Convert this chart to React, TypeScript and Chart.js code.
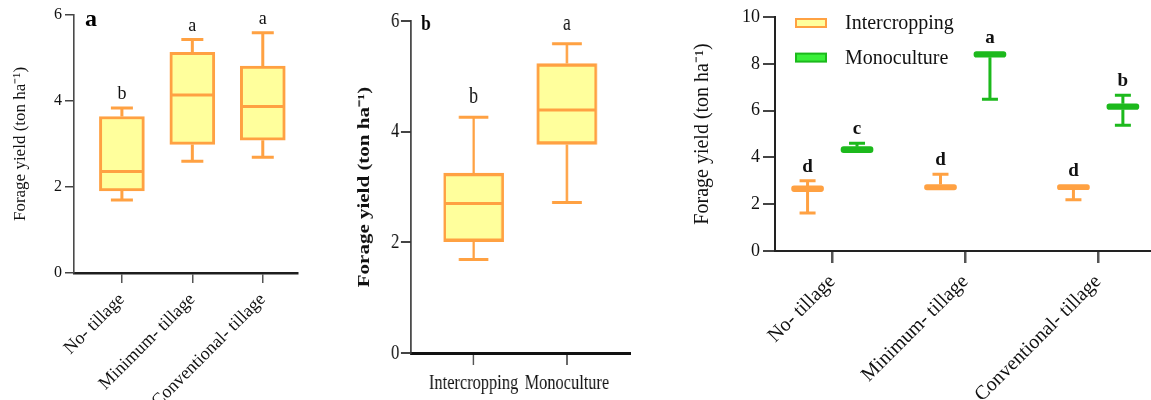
import React, { useEffect, useRef } from 'react';
import { Chart, registerables } from 'chart.js';

Chart.register(...registerables);

// ---------- categories ----------
const tillageLabels = ['No- tillage', 'Minimum- tillage', 'Conventional- tillage'];
const croppingLabels = ['Intercropping', 'Monoculture'];
const tillagePositions = [1, 2, 3];
const croppingPositions = [1, 2];

// ---------- panel a : tillage (box plots) ----------
const aMin = [1.70, 2.60, 2.69];
const aQ1 = [1.91, 2.99, 3.09];
const aMedian = [2.36, 4.14, 3.87];
const aQ3 = [3.64, 5.13, 4.81];
const aMax = [3.84, 5.43, 5.59];
const aLetters = ['b', 'a', 'a'];

// ---------- panel b : cropping system (box plots) ----------
const bMin = [1.69, 2.72];
const bQ1 = [2.01, 3.77];
const bMedian = [2.70, 4.39];
const bQ3 = [3.25, 5.23];
const bMax = [4.26, 5.59];
const bLetters = ['b', 'a'];

// ---------- panel c : tillage x cropping ----------
const cIntMin = [1.62, 2.61, 2.19];
const cIntQ1 = [2.54, 2.61, 2.62];
const cIntMedian = [2.65, 2.72, 2.73];
const cIntQ3 = [2.78, 2.84, 2.84];
const cIntMax = [3.00, 3.28, 2.84];
const cIntLetters = ['d', 'd', 'd'];

const cMonoMin = [4.20, 6.48, 5.37];
const cMonoQ1 = [4.20, 8.28, 6.05];
const cMonoMedian = [4.33, 8.40, 6.16];
const cMonoQ3 = [4.46, 8.52, 6.29];
const cMonoMax = [4.60, 8.52, 6.66];
const cMonoLetters = ['c', 'a', 'b'];

const yTitle = 'Forage yield (ton ha\u207B\u00B9)';

const SERIF = "'Liberation Serif', 'Times New Roman', Times, serif";
const ORANGE = '#FFA142';
const YELLOW = '#FFFF9C';
const GREEN = '#1CB91C';
const LIGHTGREEN = '#3AF03A';

type Series = {
  label: string;
  xs: number[];
  min: number[];
  q1: number[];
  med: number[];
  q3: number[];
  max: number[];
  letters: string[];
  stroke: string;
  fill: string;
};

type Panel = {
  left: number;
  width: number;
  squash: number;
  yMax: number;
  xMin: number;
  xMax: number;
  tickPositions: number[];
  tickLabels: string[];
  series: Series[];
  padding: { left: number; right: number; top: number; bottom: number };
  yWidth: number;
  xHeight: number;
  boxWidth: number;
  capWidth: number;
  lineWidth: number;
  boxBorder: number;
  radius: number;
  solidBoxes: boolean;
  drawMedian: boolean;
  tickFont: number;
  xLabelFont: number;
  xRotation: number;
  xTickPadding: number;
  yTickPadding: number;
  yTickLength: number;
  xTickLength: number;
  yAxisColor: string;
  yAxisWidth: number;
  xAxisColor: string;
  xAxisWidth: number;
  yTickWidth: number;
  xTickWidth: number;
  titleSize: number;
  titleWeight: string;
  titlePadTop: number;
  letterFont: string;
  letterGap: number;
  panelLabel?: { text: string; font: string; dx: number; dy: number };
  legend?: boolean;
};

const GROUP_OFFSET = 0.186;

const panels: Panel[] = [
  {
    left: 0,
    width: 305,
    squash: 1,
    yMax: 6,
    xMin: 0.32,
    xMax: 3.5,
    tickPositions: tillagePositions,
    tickLabels: tillageLabels,
    series: [
      {
        label: 'Tillage',
        xs: tillagePositions,
        min: aMin, q1: aQ1, med: aMedian, q3: aQ3, max: aMax,
        letters: aLetters, stroke: ORANGE, fill: YELLOW,
      },
    ],
    padding: { left: 0, right: 7, top: 15, bottom: 0 },
    yWidth: 74,
    xHeight: 127,
    boxWidth: 45,
    capWidth: 22,
    lineWidth: 3,
    boxBorder: 3,
    radius: 0,
    solidBoxes: false,
    drawMedian: true,
    tickFont: 16,
    xLabelFont: 18,
    xRotation: 45,
    xTickPadding: 6,
    yTickPadding: 3,
    yTickLength: 9,
    xTickLength: 10,
    yAxisColor: '#4a4a4a',
    yAxisWidth: 1.6,
    xAxisColor: '#1e1e1e',
    xAxisWidth: 2.5,
    yTickWidth: 1.5,
    xTickWidth: 1.5,
    titleSize: 17,
    titleWeight: 'normal',
    titlePadTop: 10,
    letterFont: `normal 18px ${SERIF}`,
    letterGap: 9,
    panelLabel: { text: 'a', font: `bold 24px ${SERIF}`, dx: 11, dy: 11 },
  },
  {
    left: 340,
    width: 385,
    squash: 0.78,
    yMax: 6,
    xMin: 0.329,
    xMax: 2.678,
    tickPositions: croppingPositions,
    tickLabels: croppingLabels,
    series: [
      {
        label: 'Cropping',
        xs: croppingPositions,
        min: bMin, q1: bQ1, med: bMedian, q3: bQ3, max: bMax,
        letters: bLetters, stroke: ORANGE, fill: YELLOW,
      },
    ],
    padding: { left: 0, right: 13, top: 21, bottom: 0 },
    yWidth: 91,
    xHeight: 47,
    boxWidth: 77,
    capWidth: 38,
    lineWidth: 3,
    boxBorder: 3.5,
    radius: 0,
    solidBoxes: false,
    drawMedian: true,
    tickFont: 21,
    xLabelFont: 21,
    xRotation: 0,
    xTickPadding: 6,
    yTickPadding: 2,
    yTickLength: 13,
    xTickLength: 12,
    yAxisColor: '#333',
    yAxisWidth: 1.8,
    xAxisColor: '#111',
    xAxisWidth: 3,
    yTickWidth: 2,
    xTickWidth: 2,
    titleSize: 21,
    titleWeight: 'bold',
    titlePadTop: 19,
    letterFont: `normal 23px ${SERIF}`,
    letterGap: 14,
    panelLabel: { text: 'b', font: `bold 22px ${SERIF}`, dx: 13, dy: 9 },
  },
  {
    left: 680,
    width: 471,
    squash: 1,
    yMax: 10,
    xMin: 0.569,
    xMax: 3.39,
    tickPositions: tillagePositions,
    tickLabels: tillageLabels,
    series: [
      {
        label: 'Intercropping',
        xs: tillagePositions.map((v) => v - GROUP_OFFSET),
        min: cIntMin, q1: cIntQ1, med: cIntMedian, q3: cIntQ3, max: cIntMax,
        letters: cIntLetters, stroke: ORANGE, fill: YELLOW,
      },
      {
        label: 'Monoculture',
        xs: tillagePositions.map((v) => v + GROUP_OFFSET),
        min: cMonoMin, q1: cMonoQ1, med: cMonoMedian, q3: cMonoQ3, max: cMonoMax,
        letters: cMonoLetters, stroke: GREEN, fill: LIGHTGREEN,
      },
    ],
    padding: { left: 0, right: 1, top: 17, bottom: 0 },
    yWidth: 95,
    xHeight: 149,
    boxWidth: 32,
    capWidth: 16,
    lineWidth: 3,
    boxBorder: 0,
    radius: 3,
    solidBoxes: true,
    drawMedian: false,
    tickFont: 18,
    xLabelFont: 20,
    xRotation: 45,
    xTickPadding: 7,
    yTickPadding: 3,
    yTickLength: 12,
    xTickLength: 12,
    yAxisColor: '#222',
    yAxisWidth: 2,
    xAxisColor: '#222',
    xAxisWidth: 2,
    yTickWidth: 2,
    xTickWidth: 2.5,
    titleSize: 20,
    titleWeight: 'normal',
    titlePadTop: 11,
    letterFont: `bold 19px ${SERIF}`,
    letterGap: 9,
    legend: true,
  },
];

function extrasPlugin(p: Panel) {
  return {
    id: 'boxExtras',
    afterDatasetsDraw(chart: any) {
      const ctx = chart.ctx as CanvasRenderingContext2D;
      const xs = chart.scales.x;
      const ys = chart.scales.y;
      const area = chart.chartArea;
      ctx.save();
      p.series.forEach((s) => {
        s.xs.forEach((xv, i) => {
          const cx = xs.getPixelForValue(xv);
          const yMax = ys.getPixelForValue(s.max[i]);
          const yQ3 = ys.getPixelForValue(s.q3[i]);
          const yQ1 = ys.getPixelForValue(s.q1[i]);
          const yMin = ys.getPixelForValue(s.min[i]);
          const yMed = ys.getPixelForValue(s.med[i]);
          const hc = p.capWidth / 2;
          ctx.strokeStyle = s.stroke;
          ctx.lineWidth = p.lineWidth;
          ctx.lineCap = 'butt';
          ctx.beginPath();
          if (s.max[i] > s.q3[i]) {
            ctx.moveTo(cx, yQ3);
            ctx.lineTo(cx, yMax);
            ctx.moveTo(cx - hc, yMax);
            ctx.lineTo(cx + hc, yMax);
          }
          if (s.min[i] < s.q1[i]) {
            ctx.moveTo(cx, yQ1);
            ctx.lineTo(cx, yMin);
            ctx.moveTo(cx - hc, yMin);
            ctx.lineTo(cx + hc, yMin);
          }
          if (p.drawMedian) {
            const hb = p.boxWidth / 2 - 1;
            ctx.moveTo(cx - hb, yMed);
            ctx.lineTo(cx + hb, yMed);
          }
          ctx.stroke();
          ctx.fillStyle = '#111';
          ctx.font = p.letterFont;
          ctx.textAlign = 'center';
          ctx.textBaseline = 'alphabetic';
          ctx.fillText(s.letters[i], cx, Math.min(yMax, yQ3) - p.letterGap);
        });
      });
      if (p.panelLabel) {
        ctx.fillStyle = '#000';
        ctx.font = p.panelLabel.font;
        ctx.textAlign = 'left';
        ctx.textBaseline = 'alphabetic';
        ctx.fillText(p.panelLabel.text, area.left + p.panelLabel.dx, area.top + p.panelLabel.dy);
      }
      if (p.legend) {
        p.series.forEach((s, k) => {
          const cy = area.top + 6 + k * 34.6;
          const x0 = area.left + 21;
          ctx.fillStyle = s.fill;
          ctx.fillRect(x0, cy - 4, 30, 8);
          ctx.strokeStyle = s.stroke;
          ctx.lineWidth = 2;
          ctx.strokeRect(x0, cy - 4, 30, 8);
          ctx.fillStyle = '#111';
          ctx.font = `normal 20px ${SERIF}`;
          ctx.textAlign = 'left';
          ctx.textBaseline = 'middle';
          ctx.fillText(s.label, area.left + 70, cy + 1);
        });
      }
      ctx.restore();
    },
  };
}

function buildConfig(p: Panel): any {
  return {
    type: 'bar',
    data: {
      datasets: p.series.map((s) => ({
        label: s.label,
        data: s.xs.map((xv, i) => ({ x: xv, y: [s.q1[i], s.q3[i]] })),
        backgroundColor: p.solidBoxes ? s.stroke : s.fill,
        borderColor: s.stroke,
        borderWidth: p.boxBorder,
        borderSkipped: false,
        borderRadius: p.radius,
        barThickness: p.boxWidth,
        grouped: false,
      })),
    },
    options: {
      animation: false,
      responsive: true,
      maintainAspectRatio: false,
      layout: { padding: p.padding },
      plugins: {
        legend: { display: false },
        tooltip: { enabled: false },
      },
      scales: {
        x: {
          type: 'linear',
          min: p.xMin,
          max: p.xMax,
          offset: false,
          afterBuildTicks: (scale: any) => {
            scale.ticks = p.tickPositions.map((v) => ({ value: v }));
          },
          afterFit: (scale: any) => {
            scale.height = p.xHeight;
          },
          ticks: {
            autoSkip: false,
            minRotation: p.xRotation,
            maxRotation: p.xRotation,
            padding: p.xTickPadding,
            color: '#111',
            font: { family: SERIF, size: p.xLabelFont },
            callback: (_v: any, index: number) => p.tickLabels[index],
          },
          grid: {
            display: true,
            offset: false,
            drawOnChartArea: false,
            drawTicks: true,
            tickLength: p.xTickLength,
            color: '#555',
            lineWidth: p.xTickWidth,
          },
          border: { display: true, color: p.xAxisColor, width: p.xAxisWidth },
        },
        y: {
          min: 0,
          max: p.yMax,
          afterFit: (scale: any) => {
            scale.width = p.yWidth;
          },
          ticks: {
            stepSize: 2,
            padding: p.yTickPadding,
            color: '#111',
            font: { family: SERIF, size: p.tickFont },
          },
          grid: {
            display: true,
            drawOnChartArea: false,
            drawTicks: true,
            tickLength: p.yTickLength,
            color: '#444',
            lineWidth: p.yTickWidth,
          },
          border: { display: true, color: p.yAxisColor, width: p.yAxisWidth },
          title: {
            display: true,
            text: yTitle,
            color: '#111',
            font: { family: SERIF, size: p.titleSize, weight: p.titleWeight, lineHeight: 1.2 },
            padding: { top: p.titlePadTop, bottom: 0 },
          },
        },
      },
    },
    plugins: [extrasPlugin(p)],
  };
}

function PanelChart({ p }: { p: Panel }) {
  const ref = useRef<HTMLCanvasElement | null>(null);
  useEffect(() => {
    if (!ref.current) return;
    const chart = new Chart(ref.current, buildConfig(p));
    return () => chart.destroy();
  }, [p]);
  return (
    <div
      style={{
        position: 'absolute',
        left: p.left,
        top: 0,
        width: p.width,
        height: 400,
        transform: p.squash !== 1 ? `scaleX(${p.squash})` : undefined,
        transformOrigin: '0 0',
      }}
    >
      <canvas ref={ref} />
    </div>
  );
}

export default function App() {
  return (
    <div
      style={{
        position: 'fixed',
        left: 0,
        top: 0,
        width: 1151,
        height: 400,
        background: '#fff',
        overflow: 'hidden',
      }}
    >
      {panels.map((p, i) => (
        <PanelChart key={i} p={p} />
      ))}
    </div>
  );
}
